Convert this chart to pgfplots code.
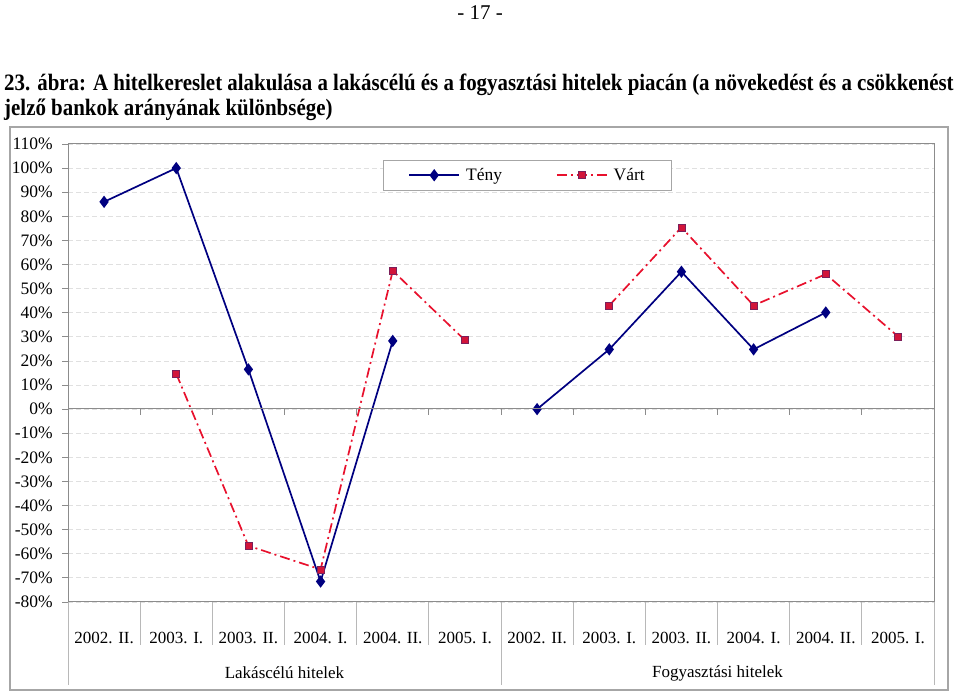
\documentclass[border=0pt]{standalone}
\usepackage{pgfplots}
\pgfplotsset{compat=1.18}
\usepackage{fontspec}
\setmainfont{Liberation Serif}
\newfontfamily\titlefont[FakeStretch=0.89]{Liberation Serif}
\definecolor{navyT}{HTML}{000080}
\definecolor{redV}{HTML}{E8112D}
\definecolor{sqfill}{HTML}{D2143A}
\definecolor{sqdraw}{HTML}{7B1F5A}
\definecolor{frameC}{HTML}{A6A6A6}
\definecolor{axisC}{HTML}{8C8C8C}
\begin{document}
\begin{tikzpicture}[x=1bp,y=1bp]
\useasboundingbox (0,0) rectangle (960,694);
\node at (480,681) {\fontsize{21bp}{22bp}\selectfont - 17 -};
\node[anchor=base west, inner sep=0] at (4,603) {\titlefont\bfseries\fontsize{23.5bp}{26bp}\selectfont 23. ábra: A hitelkereslet alakulása a lakáscélú és a fogyasztási hitelek piacán (a növekedést és a csökkenést};
\node[anchor=base west, inner sep=0] at (4,578) {\titlefont\bfseries\fontsize{23.5bp}{26bp}\selectfont jelző bankok arányának különbsége)};
\draw[frameC, line width=1.2bp] (10,4) rectangle (948,567);
\begin{axis}[
  at={(68bp,92bp)}, anchor=south west,
  width=866bp, height=458bp, scale only axis,
  xmin=-0.5, xmax=11.5, ymin=-80, ymax=110,
  enlargelimits=false, clip=false,
  xtick={0,...,11},
  xticklabels={2002. II., 2003. I., 2003. II., 2004. I., 2004. II., 2005. I., 2002. II., 2003. I., 2003. II., 2004. I., 2004. II., 2005. I.},
  x tick style={draw=none},
  xticklabel style={anchor=center, yshift=-30bp},
  ytick={-80,-70,...,110},
  yticklabels={-80\%,-70\%,-60\%,-50\%,-40\%,-30\%,-20\%,-10\%,0\%,10\%,20\%,30\%,40\%,50\%,60\%,70\%,80\%,90\%,100\%,110\%},
  ytick pos=left, tick align=outside, major tick length=6bp,
  y tick style={axisC, line width=0.8bp},
  yticklabel style={anchor=east, inner sep=0pt, xshift=-9bp, font=\fontsize{17.5bp}{18bp}\selectfont},
  xticklabel style={font=\fontsize{17bp}{18bp}\selectfont},
  ymajorgrids, major grid style={dash pattern=on 5bp off 3bp, black!12, line width=0.8bp},
  axis line style={axisC, line width=1bp},
  legend columns=2,
  legend style={at={(0.3637,0.965)}, anchor=north west, draw=frameC, line width=0.8bp,
    font=\fontsize{17.5bp}{18bp}\selectfont, inner xsep=25bp, inner ysep=6bp,
    /tikz/every odd column/.append style={column sep=4bp},
    /tikz/every even column/.append style={column sep=52bp}},
  legend image code/.code={\draw[mark repeat=2, mark phase=2, #1] plot coordinates {(0bp,0bp) (25bp,0bp) (50bp,0bp)};},
]
\addplot[navyT, line width=1.7bp, mark=diamond*, mark size=4.8bp, mark options={solid, fill=navyT}] coordinates {(0,86)(1,100)(2,16.5)(3,-71.5)(4,28.3)};
\addplot[redV, line width=1.7bp, dash pattern=on 10bp off 4bp on 2bp off 4bp, mark=square*, mark size=3.5bp, mark options={solid, fill=sqfill, draw=sqdraw, line width=0.6bp}] coordinates {(1,14.7)(2,-56.7)(3,-66.5)(4,57.4)(5,28.6)};
\addplot[navyT, line width=1.7bp, mark=diamond*, mark size=4.8bp, mark options={solid, fill=navyT}, forget plot] coordinates {(6,0)(7,24.8)(8,57)(9,24.8)(10,40.1)};
\addplot[redV, line width=1.7bp, dash pattern=on 10bp off 4bp on 2bp off 4bp, mark=square*, mark size=3.5bp, mark options={solid, fill=sqfill, draw=sqdraw, line width=0.6bp}, forget plot] coordinates {(7,43)(8,75.4)(9,43)(10,56)(11,30.2)};
\legend{Tény, Várt}
\end{axis}
% zero line and category separators
\draw[axisC, line width=1bp] (68,285) -- (934,285);
\foreach \k in {1,...,11} {
  \draw[axisC, line width=0.8bp] ({68+72.1667*\k},285) -- ++(0,-6);
}
\foreach \k in {1,2,3,4,5,7,8,9,10,11} {
  \draw[frameC!80, line width=0.8bp] ({68+72.1667*\k},92) -- ({68+72.1667*\k},49);
}
\foreach \xx in {68,501,934} {
  \draw[frameC!80, line width=0.8bp] (\xx,92) -- (\xx,9);
}
\node[font=\fontsize{17bp}{18bp}\selectfont] at (284.5,21) {Lakáscélú hitelek};
\node[font=\fontsize{17bp}{18bp}\selectfont] at (717.5,21) {Fogyasztási hitelek};
\end{tikzpicture}
\end{document}
